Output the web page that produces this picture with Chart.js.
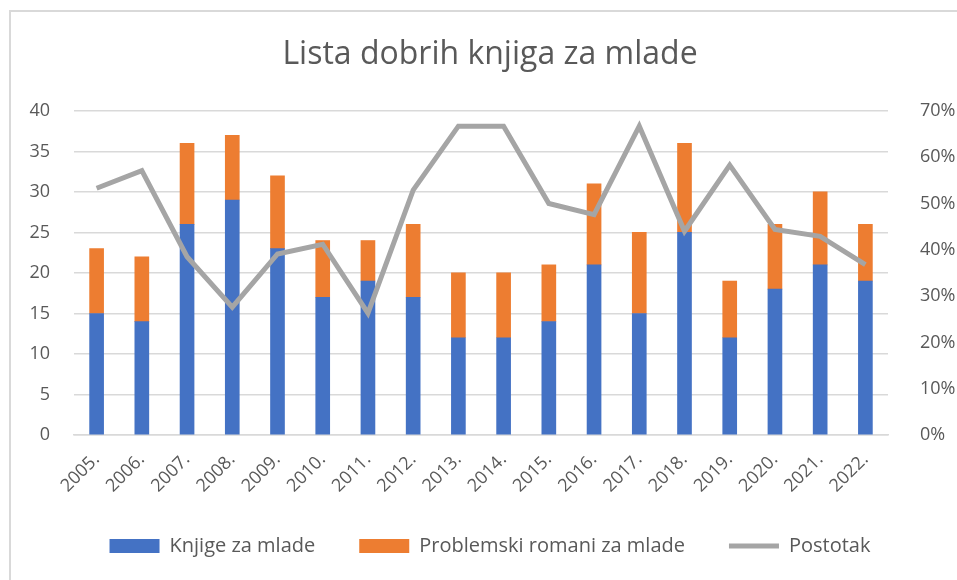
<!DOCTYPE html>
<html>
<head>
<meta charset="utf-8">
<script src="https://cdn.jsdelivr.net/npm/chart.js@4/dist/chart.umd.min.js"></script>
<style>
    html, body { margin: 0; padding: 0; background: #fff; }
    #wrap { position: relative; width: 957px; height: 580px; }
    #frame {
        position: absolute; left: 9px; top: 10px; right: 0; bottom: 0;
        border-left: 2px solid #d9d9d9; border-top: 2px solid #d9d9d9;
    }
    #chart { position: absolute; left: 0; top: 0; }
</style>
</head>
<body>
<div id="wrap">
    <div id="frame"></div>
    <canvas id="chart" width="957" height="580"></canvas>
</div>
<script>
// Podaci očitani s grafikona
const years = ['2005.', '2006.', '2007.', '2008.', '2009.', '2010.', '2011.', '2012.', '2013.',
    '2014.', '2015.', '2016.', '2017.', '2018.', '2019.', '2020.', '2021.', '2022.'];
const knjige = [15, 14, 26, 29, 23, 17, 19, 17, 12, 12, 14, 21, 15, 25, 12, 18, 21, 19];
const problemski = [8, 8, 10, 8, 9, 7, 5, 9, 8, 8, 7, 10, 10, 11, 7, 8, 9, 7];
const postotak = [53.3, 57.1, 38.5, 27.6, 39.1, 41.2, 26.3, 52.9, 66.7, 66.7, 50.0, 47.6, 66.7, 44.0, 58.3, 44.4, 42.9, 36.8];

const TEXT = '#595959';
const GRID = '#d9d9d9';
const FONT = "'Open Sans', sans-serif";

Chart.defaults.font.family = FONT;
Chart.defaults.color = TEXT;

const legendLabels = (chart) => {
    const items = Chart.defaults.plugins.legend.labels.generateLabels(chart);
    items.forEach(it => {
        if (it.datasetIndex === 2) {
            it.pointStyle = 'line';
            it.lineWidth = 5;
            it.strokeStyle = '#a5a5a5';
        } else {
            it.pointStyle = 'rect';
            it.lineWidth = 0;
        }
    });
    return items;
};

new Chart(document.getElementById('chart'), {
    type: 'bar',
    data: {
        labels: years,
        datasets: [
            {
                label: 'Knjige za mlade',
                data: knjige,
                backgroundColor: '#4472c4',
                stack: 's',
                yAxisID: 'y',
                order: 1
            },
            {
                label: 'Problemski romani za mlade',
                data: problemski,
                backgroundColor: '#ed7d31',
                stack: 's',
                yAxisID: 'y',
                order: 1
            },
            {
                type: 'line',
                label: 'Postotak',
                data: postotak,
                borderColor: '#a5a5a5',
                backgroundColor: '#a5a5a5',
                borderWidth: 5,
                pointRadius: 0,
                tension: 0,
                yAxisID: 'y1',
                order: 0
            }
        ]
    },
    options: {
        responsive: false,
        animation: false,
        layout: { padding: { left: 23, right: 0, top: 12, bottom: 14 } },
        datasets: { bar: { barThickness: 14 } },
        plugins: {
            title: {
                display: true,
                text: 'Lista dobrih knjiga za mlade',
                color: TEXT,
                font: { size: 32, weight: 'normal', family: FONT },
                padding: { top: 24, bottom: 36.5 }
            },
            legend: {
                position: 'bottom',
                labels: {
                    usePointStyle: true,
                    pointStyleWidth: 50,
                    boxHeight: 14,
                    padding: 44,
                    color: TEXT,
                    font: { size: 20, family: FONT },
                    generateLabels: legendLabels,
                    sort: (a, b) => a.datasetIndex - b.datasetIndex
                }
            },
            tooltip: { enabled: false }
        },
        scales: {
            x: {
                stacked: true,
                grid: { display: false },
                border: { color: GRID, width: 1.5 },
                ticks: {
                    minRotation: 45,
                    maxRotation: 45,
                    padding: 6,
                    color: TEXT,
                    font: { size: 18 }
                },
                afterFit: (s) => { s.height = 57; }
            },
            y: {
                stacked: true,
                min: 0,
                max: 40,
                position: 'left',
                grid: { color: GRID, lineWidth: 1.5, drawTicks: false },
                border: { display: false },
                ticks: { stepSize: 5, padding: 24, color: TEXT, font: { size: 18 } },
                afterFit: (s) => { s.width = 51; }
            },
            y1: {
                min: 0,
                max: 70,
                position: 'right',
                grid: { display: false },
                border: { display: false },
                ticks: {
                    stepSize: 10,
                    padding: 24,
                    color: TEXT,
                    font: { size: 18 },
                    callback: (v) => v + '%'
                },
                afterFit: (s) => { s.width = 69; }
            }
        }
    }
});
</script>
</body>
</html>
